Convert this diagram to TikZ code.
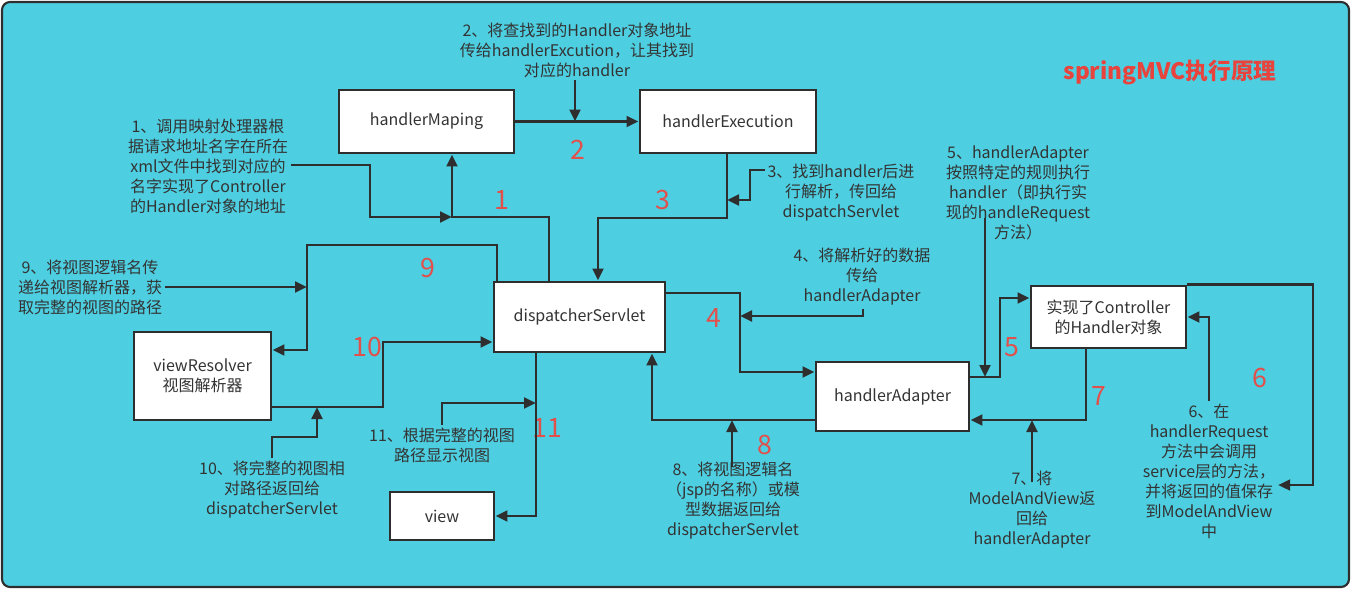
\documentclass[tikz,border=0pt]{standalone}
\usepackage{fontspec}
\setmainfont{Noto Sans CJK SC}
\usepackage{xcolor}
\usepackage{tikz}
\usetikzlibrary{calc,arrows.meta}
\definecolor{figCyan}{HTML}{4DCFE1}
\definecolor{figDark}{HTML}{2E2E2E}
\definecolor{figText}{HTML}{333333}
\definecolor{figRed}{HTML}{E2504C}
\definecolor{figTitle}{HTML}{E8433C}

\begin{document}
\begin{tikzpicture}[
  x=0.75pt, y=-0.75pt,
  box/.style={
    rectangle, draw=figDark, fill=white, line width=2.2pt,
    font=\fontsize{12}{15}\selectfont, text=figText, align=center
  },
  note/.style={
    font=\fontsize{12}{15}\selectfont, text=figText,
    align=center, inner sep=2pt
  },
  num/.style={font=\fontsize{20}{20}\selectfont, text=figRed, inner sep=0pt},
  arr/.style={-{Triangle[length=9pt,width=8pt]}, figDark, line width=2.2pt}
]
\useasboundingbox (0,0) rectangle (1351,589);
\draw[draw=figDark, line width=1.6pt, fill=figCyan, rounded corners=6pt]
  (2,2) rectangle (1349,587);

% Title
\node[font=\fontsize{17}{20}\selectfont\bfseries, text=figTitle]
  (title) at (1170,73) {springMVC执行原理};

% Components
\node[box, minimum width=131.25pt, minimum height=47.25pt]
  (hm) at (426.5,121.5) {handlerMaping};
\node[box, minimum width=132pt, minimum height=47.25pt]
  (he) at (728,121.5) {handlerExecution};
\node[box, minimum width=128.25pt, minimum height=52.5pt]
  (ds) at (579.5,317) {dispatcherServlet};
\node[box, minimum width=102.75pt, minimum height=66pt]
  (vr) at (202.5,376) {viewResolver\\视图解析器};
\node[box, minimum width=78pt, minimum height=36pt]
  (view) at (442,516) {view};
\node[box, minimum width=114.75pt, minimum height=51.75pt]
  (ha) at (892.5,396.5) {handlerAdapter};
\node[box, minimum width=116.25pt, minimum height=46.5pt]
  (ctl) at (1108.5,317) {实现了Controller\\的Handler对象};

% Notes
\node[note] (t1) at (208,166) {1、调用映射处理器根\\据请求地址名字在所在\\xml文件中找到对应的\\名字实现了Controller\\的Handler对象的地址};
\node[note] (t2) at (577,50) {2、将查找到的Handler对象地址\\传给handlerExcution，让其找到\\对应的handler};
\node[note] (t3) at (841,193) {3、找到handler后进\\行解析，传回给\\dispatchServlet};
\node[note] (t4) at (862,277) {4、将解析好的数据\\传给\\handlerAdapter};
\node[note] (t5) at (1018,193) {5、handlerAdapter\\按照特定的规则执行\\handler（即执行实\\现的handleRequest\\方法）};
\node[note] (t6) at (1209,471) {6、在\\handlerRequest\\方法中会调用\\service层的方法，\\并将返回的值保存\\到ModelAndView\\中};
\node[note] (t7) at (1032,510) {7、将\\ModelAndView返\\回给\\handlerAdapter};
\node[note] (t8) at (733,501) {8、将视图逻辑名\\（jsp的名称）或模\\型数据返回给\\dispatcherServlet};
\node[note] (t9) at (90,287) {9、将视图逻辑名传\\递给视图解析器，获\\取完整的视图的路径};
\node[note] (t10) at (272,490) {10、将完整的视图相\\对路径返回给\\dispatcherServlet};
\node[note] (t11) at (442,445) {11、根据完整的视图\\路径显示视图};

% Step numbers
\node[num] (n1) at (502,200) {1};
\node[num] (n2) at (578,150) {2};
\node[num] (n3) at (663,200) {3};
\node[num] (n4) at (714,318) {4};
\node[num] (n5) at (1012,347) {5};
\node[num] (n6) at (1260,378) {6};
\node[num] (n7) at (1099,396) {7};
\node[num] (n8) at (765,445) {8};
\node[num] (n9) at (428,268) {9};
\node[num] (n10) at (367,347) {10};
\node[num] (n11) at (547,428) {11};

% Junctions where notes meet the flow
\coordinate (j1) at (452,217);
\coordinate (j2) at (575,121.5);
\coordinate (j3) at (727,200);
\coordinate (j4) at (740,316);
\coordinate (j5) at (985,377);
\coordinate (j7) at (1032,420);
\coordinate (j8) at (732,420);
\coordinate (j9) at (307,287);
\coordinate (j10) at (317,407);
\coordinate (j11) at (536,403);

% Flow
\draw[arr] (ds.north -| 549,0) |- (j1) -- (hm.south -| j1);
\draw[arr] (hm) -- (he);
\draw[arr] (he.south -| j3) |- (598,218) -- (ds.north -| 598,0);
\draw[arr] (ds.east |- 0,293) -| (j4) |- (ha.west |- 0,372);
\draw[arr] (ha.east |- j5) -| (1000,298) -- (ctl.west |- 0,298);
\draw[arr] (ctl.north east) -| (1313,485) -- (t6.east |- 0,485);
\draw[arr] (t6.north) |- (ctl.east |- 0,317);
\draw[arr] (ctl.south -| 1086,0) |- (ha.east |- j7);
\draw[arr] (ha.west |- j8) -| (ds.south -| 652,0);
\draw[arr] (ds.north -| 497,0) |- (307,245) -- (j9) |- (vr.east |- 0,350);
\draw[arr] (vr.east |- j10) -| (383,342) -- (ds.west |- 0,342);
\draw[arr] (ds.south -| j11) |- (view.east);

% Note pointers
\draw[arr] (t1.east |- 0,165) -| (370,217) -- (j1);
\draw[arr] (t2.south -| j2) -- (j2);
\draw[arr] (t3.west |- 0,170) -| (750,200) -- (j3);
\draw[arr] (t4.south -| 863,0) |- (j4);
\draw[arr] (j5 |- 0,218) -- (j5);
\draw[arr] (j7 |- 0,482) -- (j7);
\draw[arr] (j8 |- 0,467) -- (j8);
\draw[arr] (t9.east) -- (j9);
\draw[arr] (t10.north) |- (317,437) -- (j10);
\draw[arr] (t11.north) |- (j11);

\end{tikzpicture}
\end{document}
